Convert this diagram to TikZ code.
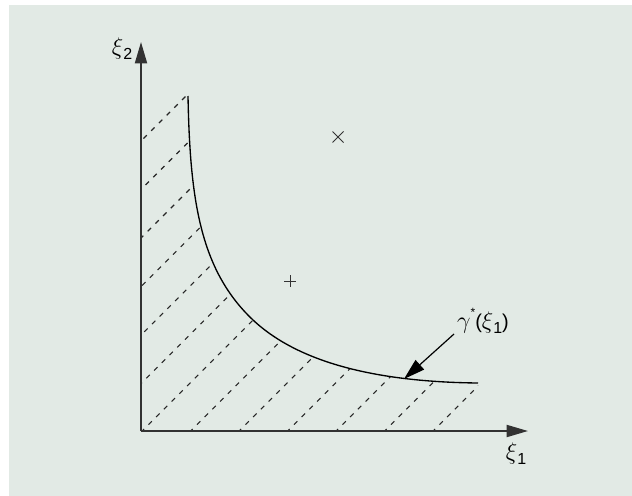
\documentclass[tikz,border=0pt]{standalone}
\usepackage{fix-cm}
\usepackage{fontspec}
\setmainfont{Liberation Sans}
\usetikzlibrary{arrows.meta,calc}
\definecolor{panel}{RGB}{226,234,229}
\definecolor{axisgray}{RGB}{50,50,50}
\newcommand{\gl}[1]{{\fontsize{18}{20}\selectfont\ensuremath{#1}}}
\newcommand{\lsub}[1]{\raisebox{-0.45ex}{\fontsize{12}{13}\selectfont #1}}
\newcommand{\lsup}[1]{\raisebox{1.1ex}{\fontsize{9}{10}\selectfont #1}}
\tikzset{
  axisline/.style={draw=axisgray, line width=1.4pt, -{Triangle[length=16pt,width=9pt]}},
  curveline/.style={draw=black, line width=1pt},
  hatchline/.style={draw=black!85, line width=0.8pt, dash pattern=on 3.6pt off 4.6pt},
  pointer/.style={draw=black, line width=0.9pt, -{Triangle[length=16pt,width=9.5pt]}},
  markline/.style={draw=black!80, line width=0.7pt},
  lbl/.style={inner sep=0pt, font=\fontsize{15}{18}\selectfont}
}
\begin{document}
\begin{tikzpicture}[x=0.75pt,y=-0.75pt]
\useasboundingbox (0,0) rectangle (632,496);
\fill[panel] (9,5) rectangle (632,496);
\coordinate (O) at (141,431);
\coordinate (Ytip) at (141,42);
\coordinate (Xtip) at (528,431);
\coordinate (cA) at (188,96);
\coordinate (cB) at (253,320);
\coordinate (cC) at (478,383);
% hatching
\begin{scope}
\clip (O) -- (141,96) -- (cA) .. controls (190,200) and (200,270) .. (cB) .. controls (300,364) and (380,382) .. (cC) -- (478,431) -- cycle;
\foreach \n in {-7,...,7}
  \draw[hatchline] ({142+48.5*\n-40},471) -- ++(440,-440);
\end{scope}
% curve
\draw[curveline] (cA) .. controls (190,200) and (200,270) .. (cB) .. controls (300,364) and (380,382) .. (cC);
% axes
\draw[axisline] (O) -- (Ytip);
\draw[axisline] (O) -- (Xtip);
% labels
\node[lbl] (y2) at (122,49) {\gl{\xi}\lsub{2}};
\node[lbl] (x1) at (516,454) {\gl{\xi}\lsub{1}};
\node[lbl] (glabel) at (483,321) {\gl{\gamma}\lsup{*}(\gl{\xi}\lsub{1})};
% pointer
\coordinate (gtail) at (454,334);
\coordinate (gtip) at (404,379);
\draw[pointer] (gtail) -- (gtip);
% markers
\coordinate (cross) at (338,137);
\draw[markline] ($(cross)+(-5.5,-5.5)$) -- ($(cross)+(5.5,5.5)$);
\draw[markline] ($(cross)+(-5.5,5.5)$) -- ($(cross)+(5.5,-5.5)$);
\coordinate (plus) at (290,281);
\draw[markline] ($(plus)+(-6,0)$) -- ($(plus)+(6,0)$);
\draw[markline] ($(plus)+(0,-6)$) -- ($(plus)+(0,6)$);
\end{tikzpicture}
\end{document}
